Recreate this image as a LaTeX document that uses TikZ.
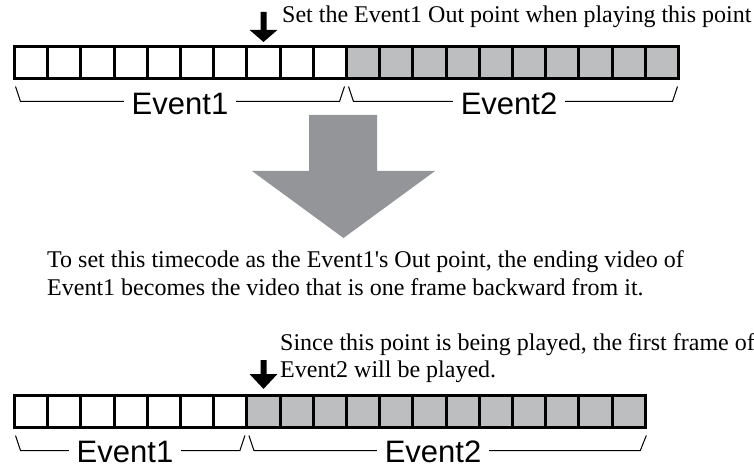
\documentclass[tikz,border=0pt]{standalone}
\usepackage{fontspec}
\setmainfont{Liberation Serif}
\newfontfamily\eventfont{Liberation Sans}
\usetikzlibrary{arrows.meta, positioning, calc}
\definecolor{framegray}{HTML}{BCBEC0}
\definecolor{bigarrowgray}{HTML}{939598}

\begin{document}
\begin{tikzpicture}[x=1pt, y=-1pt,
    every node/.style={inner sep=0pt},
    frame/.style={draw, line width=3pt, minimum width=33.2pt, minimum height=32pt, outer sep=0pt},
    played/.style={frame, fill=framegray},
    playhead/.style={line width=6pt, -{Triangle[length=#1, width=27pt]}},
    playhead/.default=12pt,
    note/.style={font=\fontsize{24}{28}\selectfont, align=left, anchor=base west},
    bracket/.style={line width=1pt},
    eventlabel/.style={font=\eventfont\fontsize{31}{31}\selectfont, fill=white, inner xsep=8pt, anchor=base}
]
\useasboundingbox (0,0) rectangle (754,465);

% ============ BEFORE: OUT POINT ON THE PLAYED FRAME ============
\foreach \i in {1,...,10}
    \node[frame] (top\i) at ({14.5+33.2*(\i-0.5)}, 62.5) {};
\foreach \i in {11,...,20}
    \node[played] (top\i) at ({14.5+33.2*(\i-0.5)}, 62.5) {};

% Play position
\coordinate (head1) at (263.5, 12);
\draw[playhead, shorten >=4.5pt] (head1) -- (top8.north);
\node[note] (topnote) at (282, 23) {Set the Event1 Out point when playing this point};

% Event ranges
\draw[bracket] ($(top1.south west)+(1,8)$) -- ($(top1.south west)+(6,23)$)
    -- ($(top10.south east)+(-7,23)$) -- ($(top10.south east)+(-2,8)$);
\draw[bracket] ($(top11.south west)+(2,8)$) -- ($(top11.south west)+(7,23)$)
    -- ($(top20.south east)+(-6,23)$) -- ($(top20.south east)+(-1,8)$);
\node[eventlabel] (ev1top) at (180, 115) {Event1};
\node[eventlabel] (ev2top) at (509, 115) {Event2};

% ============ BIG ARROW ============
\fill[bigarrowgray] (309,115) -- (377,115) -- (377,171) -- (435,171)
    -- (343.5,238) -- (252,171) -- (309,171) -- cycle;

% anchor is on the last line
\node[note] (midnote) at (47, 295) {To set this timecode as the Event1\textquotesingle s Out point, the ending video of\\Event1 becomes the video that is one frame backward from it.};

% ============ AFTER: FIRST FRAME OF EVENT2 ============
\foreach \i in {1,...,7}
    \node[frame] (bot\i) at ({14.5+33.2*(\i-0.5)}, 411.5) {};
\foreach \i in {8,...,19}
    \node[played] (bot\i) at ({14.5+33.2*(\i-0.5)}, 411.5) {};

% Play position
\coordinate (head2) at (263.5, 360);
\draw[playhead=15pt, shorten >=6.5pt] (head2) -- (bot8.north);
\node[note, font=\fontsize{24}{27}\selectfont] (botnote) at (280, 377) {Since this point is being played, the first frame of\\Event2 will be played.};

% Event ranges
\draw[bracket] ($(bot1.south west)+(1,8)$) -- ($(bot1.south west)+(6,23)$)
    -- ($(bot7.south east)+(-7,23)$) -- ($(bot7.south east)+(-2,8)$);
\draw[bracket] ($(bot8.south west)+(2,8)$) -- ($(bot8.south west)+(7,23)$)
    -- ($(bot19.south east)+(-5,23)$) -- ($(bot19.south east)+(1,8)$);
\node[eventlabel] (ev1bot) at (125, 462) {Event1};
\node[eventlabel] (ev2bot) at (433, 462) {Event2};

\end{tikzpicture}
\end{document}
